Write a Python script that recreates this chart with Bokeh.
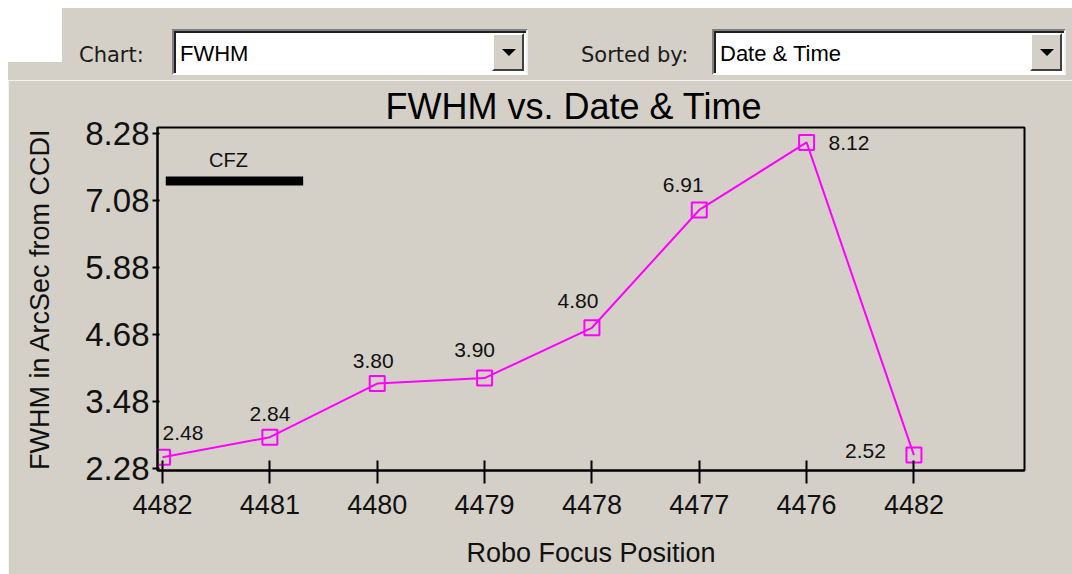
from bokeh.plotting import figure
from bokeh.models import ColumnDataSource, FixedTicker, PrintfTickFormatter, Div, Range1d
from bokeh.layouts import column
from bokeh.core.properties import value
from bokeh.embed import file_html
from bokeh.resources import INLINE

# ---- data ----
positions = ["4482", "4481", "4480", "4479", "4478", "4477", "4476", "4482"]
fwhm = [2.48, 2.84, 3.80, 3.90, 4.80, 6.91, 8.12, 2.52]
fwhm_labels = ["2.48", "2.84", "3.80", "3.90", "4.80", "6.91", "8.12", "2.52"]
y_ticks = [2.28, 3.48, 4.68, 5.88, 7.08, 8.28]
cfz_x = [0.03, 1.31]
cfz_y = 7.43
chart_choice = "FWHM"
sort_choice = "Date & Time"

# ---- label placement (style) ----
lab_dx = [0, 0, -4, -10, -14, -16, 22, -28]
lab_dy = [-24, -23, -23, -28, -27, -25, 1, -4]
lab_align = ["left", "center", "center", "center", "center", "center", "left", "right"]

GRAY = "#D4D0C8"
ARIAL = "Liberation Sans"

xs = list(range(len(positions)))
src = ColumnDataSource(dict(x=xs, y=fwhm, lab=fwhm_labels, dx=lab_dx, dy=lab_dy, al=lab_align))


def combo(left, width, text):
    return (
        f'<div style="position:absolute;left:{left}px;top:29px;width:{width}px;height:46px;'
        'box-sizing:border-box;background:#fff;border-top:2px solid #808080;border-left:2px solid #808080;'
        'border-bottom:2px solid #fff;border-right:2px solid #f0f0f0;box-shadow:inset 2px 2px 0 #202020;">'
        f'<span style="position:absolute;left:6px;top:3px;line-height:40px;font-family:\'Liberation Sans\';'
        f'font-size:22px;color:#000;">{text}</span>'
        '<div style="position:absolute;right:2px;top:2px;width:32px;height:38px;box-sizing:border-box;'
        f'background:{GRAY};border-top:2px solid #fff;border-left:2px solid #fff;'
        'border-bottom:2px solid #404040;border-right:2px solid #404040;">'
        '<div style="position:absolute;left:8px;top:14px;width:0;height:0;border-left:7px solid transparent;'
        'border-right:7px solid transparent;border-top:7px solid #000;"></div></div></div>'
    )


header_html = (
    '<div style="position:relative;width:1072px;height:80px;background:#fff;overflow:hidden;">'
    f'<div style="position:absolute;left:62px;top:8px;width:1010px;height:72px;background:{GRAY};"></div>'
    f'<div style="position:absolute;left:8px;top:62px;width:1064px;height:18px;background:{GRAY};"></div>'
    '<span style="position:absolute;left:79px;top:32px;line-height:46px;font-family:\'DejaVu Sans\';'
    'font-size:21px;color:#1a1a1a;">Chart:</span>'
    + combo(172, 356, chart_choice)
    + '<span style="position:absolute;left:581px;top:32px;line-height:46px;font-family:\'DejaVu Sans\';'
    'font-size:21px;color:#1a1a1a;">Sorted by:</span>'
    + combo(712, 354, sort_choice)
    + '</div>'
)
header = Div(text=header_html, width=1072, height=80, margin=0)

p = figure(
    width=1064, height=494,
    x_range=Range1d(-0.047, 8.03), y_range=Range1d(2.244, 8.387),
    output_backend="svg", toolbar_location=None,
    min_border_left=149, min_border_right=48, min_border_top=47, min_border_bottom=104,
    title="FWHM vs. Date & Time",
)
p.margin = (0, 0, 0, 8)
p.background_fill_color = GRAY
p.border_fill_color = GRAY
p.outline_line_color = "black"
p.outline_line_width = 2
p.grid.visible = False

p.title.align = "left"
p.title.offset = 228
p.title.text_font = ARIAL
p.title.text_font_size = "36px"
p.title.text_font_style = "normal"
p.title.text_color = "#000"
p.title.standoff = 2

# x axis
p.xaxis.ticker = FixedTicker(ticks=xs)
p.xaxis.major_label_overrides = {i: s for i, s in enumerate(positions)}
p.xaxis.minor_tick_line_color = None
p.xaxis.major_tick_in = 10
p.xaxis.major_tick_out = 13
p.xaxis.major_tick_line_width = 2
p.xaxis.axis_line_width = 2
p.xaxis.major_label_text_font = ARIAL
p.xaxis.major_label_text_font_size = "27px"
p.xaxis.major_label_text_color = "#111"
p.xaxis.major_label_standoff = 11
p.xaxis.axis_label = "Robo Focus Position"
p.xaxis.axis_label_text_font = ARIAL
p.xaxis.axis_label_text_font_size = "27px"
p.xaxis.axis_label_text_font_style = "normal"
p.xaxis.axis_label_text_color = "#111"
p.xaxis.axis_label_standoff = 21

# y axis
p.yaxis.ticker = FixedTicker(ticks=y_ticks)
p.yaxis.formatter = PrintfTickFormatter(format="%.2f")
p.yaxis.minor_tick_line_color = None
p.yaxis.major_tick_in = 2
p.yaxis.major_tick_out = 5
p.yaxis.major_tick_line_width = 2
p.yaxis.axis_line_width = 2
p.yaxis.major_label_text_font = ARIAL
p.yaxis.major_label_text_font_size = "33px"
p.yaxis.major_label_text_color = "#111"
p.yaxis.major_label_standoff = 3
p.yaxis.axis_label = "FWHM in ArcSec from CCDI"
p.yaxis.axis_label_text_font = ARIAL
p.yaxis.axis_label_text_font_size = "27px"
p.yaxis.axis_label_text_font_style = "normal"
p.yaxis.axis_label_text_color = "#111"
p.yaxis.axis_label_standoff = 27

# CFZ bar
p.segment(x0=cfz_x[0], y0=cfz_y, x1=cfz_x[1], y1=cfz_y, line_color="black", line_width=9, line_cap="butt")
p.text(x=[(cfz_x[0] + cfz_x[1]) / 2], y=[cfz_y], text=["CFZ"], text_align="center", text_baseline="middle",
       y_offset=-21, x_offset=-6, text_font=value(ARIAL), text_font_size="20px", text_color="#111")

# series
p.line("x", "y", source=src, line_color="#FF00FF", line_width=2)
p.scatter("x", "y", source=src, marker="square", size=15, fill_color=None, line_color="#FF00FF", line_width=2)
p.text("x", "y", text="lab", source=src, x_offset="dx", y_offset="dy", text_align="al", text_baseline="middle",
       text_font=value(ARIAL), text_font_size="21px", text_color="#111")

layout = column(header, p, spacing=0)
open("out.html", "w").write(file_html(layout, INLINE))
